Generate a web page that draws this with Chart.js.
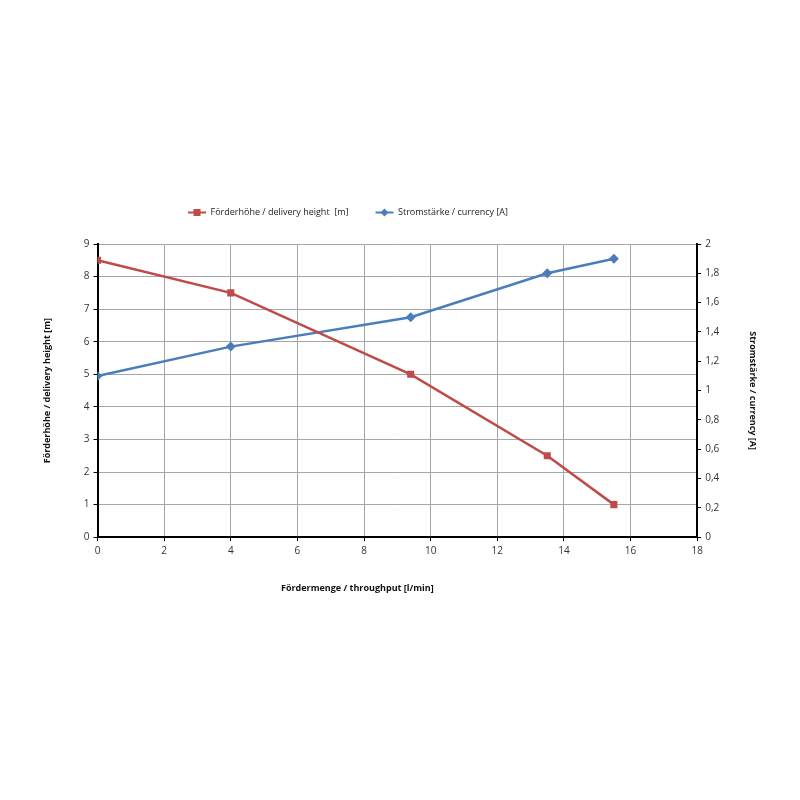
<!DOCTYPE html>
<html>
<head>
<meta charset="utf-8">
<script src="https://cdn.jsdelivr.net/npm/chart.js@4"></script>
<style>
  html, body { margin: 0; padding: 0; background: #fff; }
  #wrap { position: absolute; left: 0; top: 0; width: 800px; height: 800px; }
</style>
</head>
<body>
<div id="wrap"><canvas id="chart"></canvas></div>
<script>
// throughput [l/min]
var FLOW = [0, 4, 9.4, 13.5, 15.5];
var HEIGHT = [8.5, 7.5, 5.0, 2.5, 1.0];
var CURRENT = [1.1, 1.3, 1.5, 1.8, 1.9];

var RED = '#BE4B48';
var BLUE = '#4A7EBB';
var FONT = "'Open Sans', 'Liberation Sans', sans-serif";

function pts(xs, ys) {
  return xs.map(function(x, i) { return { x: x, y: ys[i] }; });
}

function comma(v) { return String(v).replace('.', ','); }

// extra gap under the legend; legend and x title sit left of centre like the original
var layoutTweak = {
  id: 'layoutTweak',
  beforeInit: function(chart) {
    var lg = chart.legend;
    var fit = lg.fit;
    lg.fit = function() { fit.call(this); this.height += 17; };
  },
  afterLayout: function(chart) {
    chart.legend.left -= 53;
    chart.legend.right -= 53;
    var xs = chart.scales.x;
    if (!xs._shifted) {
      var dt = xs.drawTitle;
      xs.drawTitle = function() {
        var ctx = this.ctx;
        ctx.save(); ctx.translate(-40, 0);
        dt.apply(this, arguments);
        ctx.restore();
      };
      xs._shifted = true;
    }
  }
};

// draws the marker over the legend line
var legendMarkers = {
  id: 'legendMarkers',
  afterDraw: function(chart) {
    var lg = chart.legend;
    if (!lg || !lg.legendHitBoxes) return;
    var ctx = chart.ctx;
    lg.legendHitBoxes.forEach(function(box, i) {
      var ds = chart.data.datasets[i];
      var cx = box.left + 9, cy = box.top + box.height / 2;
      ctx.save();
      ctx.fillStyle = ds.borderColor;
      if (ds.pointStyle === 'rect') {
        ctx.fillRect(cx - 3.5, cy - 3.5, 7, 7);
      } else {
        ctx.beginPath();
        ctx.moveTo(cx, cy - 4); ctx.lineTo(cx + 4, cy); ctx.lineTo(cx, cy + 4); ctx.lineTo(cx - 4, cy);
        ctx.closePath(); ctx.fill();
      }
      ctx.restore();
    });
  }
};

new Chart(document.getElementById('chart'), {
  type: 'scatter',
  data: {
    datasets: [
      { label: 'Förderhöhe / delivery height  [m]', data: pts(FLOW, HEIGHT), yAxisID: 'y',
        showLine: true, borderColor: RED, backgroundColor: RED, borderWidth: 2.5,
        pointStyle: 'rect', pointRadius: 5, pointBorderWidth: 0 },
      { label: 'Stromstärke / currency [A]', data: pts(FLOW, CURRENT), yAxisID: 'y1',
        showLine: true, borderColor: BLUE, backgroundColor: BLUE, borderWidth: 2.5,
        pointStyle: 'rectRot', pointRadius: 5, pointBorderWidth: 0 }
    ]
  },
  options: {
    responsive: true,
    maintainAspectRatio: false,
    animation: false,
    layout: { padding: { left: 38, right: 36, top: 181, bottom: 202 } },
    plugins: {
      tooltip: { enabled: false },
      legend: {
        position: 'top',
        labels: {
          font: { family: FONT, size: 9 }, color: '#222',
          boxWidth: 18, boxHeight: 2, padding: 27,
          generateLabels: function(chart) {
            return chart.data.datasets.map(function(ds, i) {
              return { text: ds.label, fillStyle: ds.borderColor, strokeStyle: ds.borderColor,
                       lineWidth: 0, datasetIndex: i, fontColor: '#222' };
            });
          }
        }
      }
    },
    scales: {
      x: {
        type: 'linear', min: 0, max: 18,
        ticks: { stepSize: 2, font: { family: FONT, size: 10 }, color: '#333', padding: 4 },
        grid: { color: '#a6a6a6', lineWidth: 1, tickColor: '#000', tickLength: 4 },
        border: { color: '#000', width: 2 },
        title: { display: true, text: 'Fördermenge / throughput [l/min]', color: '#111',
                 font: { family: FONT, size: 9, weight: 'bold' }, padding: { top: 22 } }
      },
      y: {
        position: 'left', min: 0, max: 9,
        ticks: { stepSize: 1, font: { family: FONT, size: 10 }, color: '#333', padding: 4 },
        grid: { color: '#a6a6a6', lineWidth: 1, tickColor: '#000', tickLength: 4 },
        border: { color: '#000', width: 2 },
        title: { display: true, text: 'Förderhöhe / delivery height [m]', color: '#111',
                 font: { family: FONT, size: 9, weight: 'bold' }, padding: { bottom: 27 } }
      },
      y1: {
        position: 'right', min: 0, max: 2,
        ticks: { stepSize: 0.2, font: { family: FONT, size: 10 }, color: '#333', padding: 4,
                 callback: function(v) { return comma(Math.round(v * 10) / 10); } },
        grid: { drawOnChartArea: false, tickColor: '#000', tickLength: 4 },
        border: { color: '#000', width: 2 },
        title: { display: true, text: 'Stromstärke / currency [A]', color: '#111',
                 font: { family: FONT, size: 9, weight: 'bold' }, padding: { top: 6, bottom: 24 } }
      }
    }
  },
  plugins: [layoutTweak, legendMarkers]
});
</script>
</body>
</html>
